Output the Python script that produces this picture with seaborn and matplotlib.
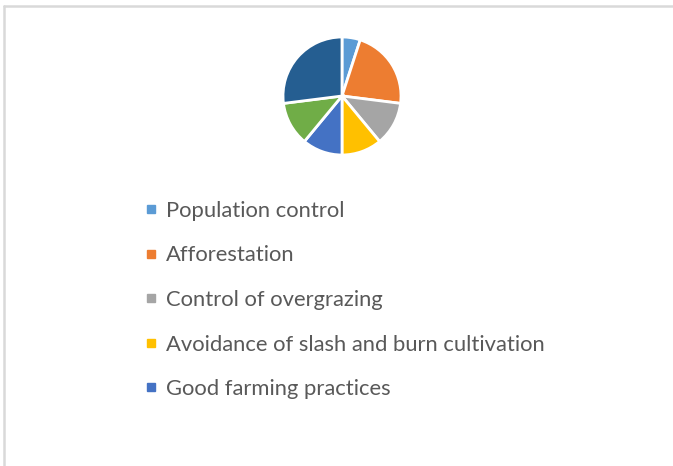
import matplotlib
matplotlib.use("Agg")
import matplotlib.pyplot as plt
from matplotlib.lines import Line2D
import seaborn as sns

sns.set_theme(style="white")
plt.rcParams['font.family'] = ['Lato', 'DejaVu Sans']

categories = ["Population control", "Afforestation", "Control of overgrazing",
              "Avoidance of slash and burn cultivation", "Good farming practices",
              "Other measures", "Other practices"]
values = [5, 22, 12, 11, 11, 12, 27]
colors = ["#5B9BD5", "#ED7D31", "#A5A5A5", "#FFC000", "#4472C4", "#70AD47", "#255E91"]
legend_count = 5

W, H = 673, 466
fig = plt.figure(figsize=(W / 100, H / 100), dpi=100)
fig.patch.set_facecolor("white")

# pie axes: center (342, 96) px, radius 59 px
r = 59
cx, cy = 342, 96
ax = fig.add_axes([(cx - r) / W, 1 - (cy + r) / H, 2 * r / W, 2 * r / H])
wedges, _ = ax.pie(values, colors=colors, startangle=90, counterclock=False,
                   wedgeprops=dict(edgecolor="white", linewidth=2.0))
ax.set_xlim(-1, 1)
ax.set_ylim(-1, 1)
ax.set_aspect("equal")
ax.axis("off")

# legend (first entries only, as in reference)
handles = [Line2D([0], [0], marker="s", linestyle="none", markersize=6,
                  markerfacecolor=colors[i], markeredgecolor=colors[i])
           for i in range(legend_count)]
leg = fig.legend(handles, categories[:legend_count], loc="upper left",
                 bbox_to_anchor=(137 / W, 1 - 192 / H), frameon=False,
                 fontsize=15.8, labelcolor="#595959", handlelength=0.5,
                 handletextpad=0.4, labelspacing=1.12, borderaxespad=0)

# outer border (top and left)
fig.add_artist(Line2D([4 / W, 1], [1 - 6 / H, 1 - 6 / H], color="#D9D9D9", linewidth=1.8,
                      transform=fig.transFigure))
fig.add_artist(Line2D([4 / W, 4 / W], [0, 1 - 6 / H], color="#D9D9D9", linewidth=1.8,
                      transform=fig.transFigure))

fig.savefig("out.png", dpi=100)
